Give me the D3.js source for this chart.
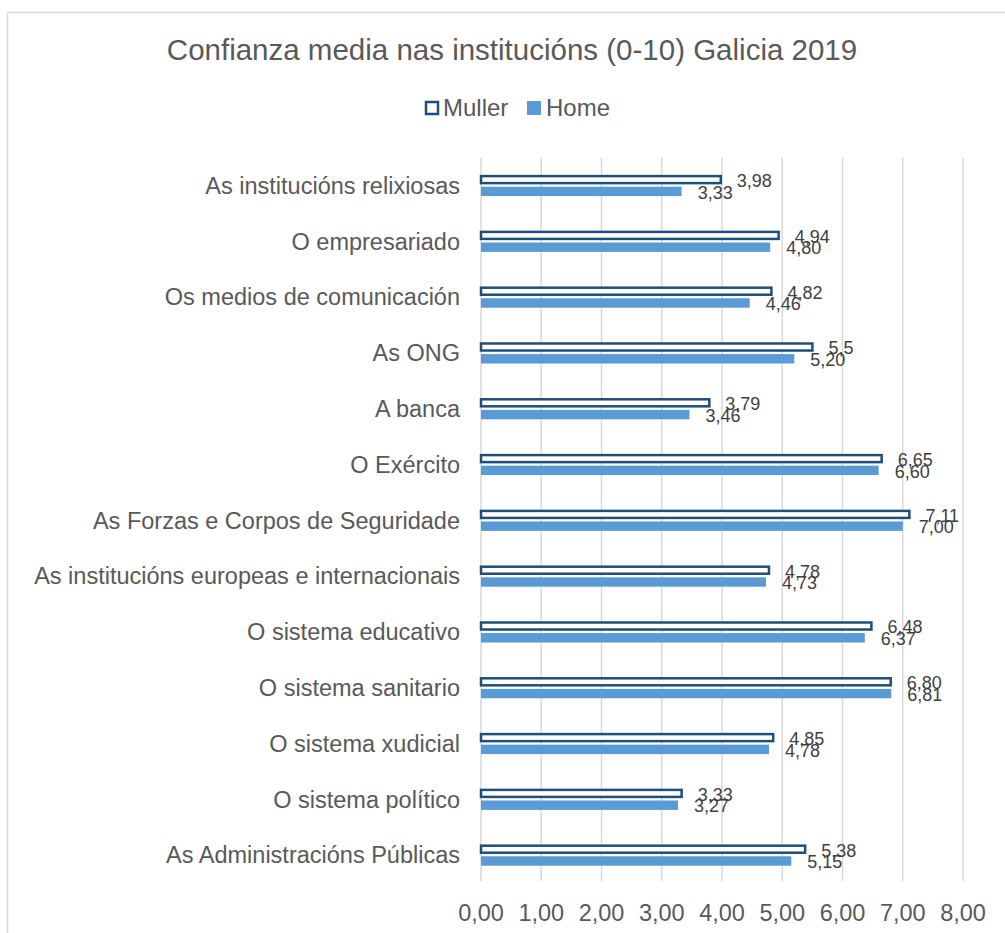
<!DOCTYPE html>
<html>
<head>
<meta charset="utf-8">
<script src="https://cdn.jsdelivr.net/npm/d3@7"></script>
<style>
  body { margin: 0; background: #fff; }
  svg text { font-family: "Liberation Sans", Arial, sans-serif; fill: #595959; }
</style>
</head>
<body>
<div id="chart"></div>
<script>
const categories = [
    "As institucións relixiosas",
    "O empresariado",
    "Os medios de comunicación",
    "As ONG",
    "A banca",
    "O Exército",
    "As Forzas e Corpos de Seguridade",
    "As institucións europeas e internacionais",
    "O sistema educativo",
    "O sistema sanitario",
    "O sistema xudicial",
    "O sistema político",
    "As Administracións Públicas"
];
const mullerValues = [3.98, 4.94, 4.82, 5.5, 3.79, 6.65, 7.11, 4.78, 6.48, 6.80, 4.85, 3.33, 5.38];
const homeValues = [3.33, 4.80, 4.46, 5.20, 3.46, 6.60, 7.00, 4.73, 6.37, 6.81, 4.78, 3.27, 5.15];
// Muller labels as shown (one of them has a single decimal)
const mullerLabels = ["3,98", "4,94", "4,82", "5,5", "3,79", "6,65", "7,11", "4,78", "6,48", "6,80", "4,85", "3,33", "5,38"];
const xTicks = [0, 1, 2, 3, 4, 5, 6, 7, 8];
const seriesNames = ["Muller", "Home"];

const width = 1005, height = 933;
const margin = { top: 157.6, left: 481 };
const plotBottom = 883;

const svg = d3.select("#chart").append("svg")
    .attr("width", width)
    .attr("height", height);

// chart area border (cropped at right/bottom)
svg.append("rect")
    .attr("x", 7.5).attr("y", 12.5)
    .attr("width", 1040).attr("height", 960)
    .attr("fill", "none")
    .attr("stroke", "#d9d9d9")
    .attr("stroke-width", 1.5);

const x = d3.scaleLinear().domain([0, 8]).range([margin.left, 963]);
const y = d3.scaleBand().domain(categories).range([margin.top, plotBottom])
    .paddingInner(0.62).paddingOuter(0.31);
const ySub = d3.scaleBand().domain(seriesNames).range([0, y.bandwidth()]).paddingInner(0.2);
const fmt = d3.format(".2f");
const comma = (s) => s.replace(".", ",");

// gridlines
svg.append("g")
    .selectAll("line")
    .data(xTicks)
    .join("line")
    .attr("x1", (d) => x(d)).attr("x2", (d) => x(d))
    .attr("y1", margin.top).attr("y2", plotBottom - 2)
    .attr("stroke", "#d9d9d9")
    .attr("stroke-width", 1.5);

// x tick labels
svg.append("g")
    .selectAll("text")
    .data(xTicks)
    .join("text")
    .attr("x", (d) => x(d))
    .attr("y", 921)
    .attr("text-anchor", "middle")
    .style("font-size", "23.5px")
    .text((d) => comma(fmt(d)));

// category labels
svg.append("g")
    .selectAll("text")
    .data(categories)
    .join("text")
    .attr("x", 460)
    .attr("y", (d) => y(d) + y.bandwidth() / 2)
    .attr("dy", "0.35em")
    .attr("text-anchor", "end")
    .style("font-size", "23.5px")
    .text((d) => d);

const rows = categories.map((c, i) => ({ cat: c, muller: mullerValues[i], home: homeValues[i], mLabel: mullerLabels[i] }));

// Muller bars (outlined)
svg.append("g")
    .selectAll("rect")
    .data(rows)
    .join("rect")
    .attr("x", x(0))
    .attr("y", (d) => y(d.cat) + ySub("Muller") + 1.2)
    .attr("width", (d) => x(d.muller) - x(0))
    .attr("height", ySub.bandwidth() - 2.4)
    .attr("fill", "#fff")
    .attr("stroke", "#1f4e79")
    .attr("stroke-width", 2.5);

// Home bars
svg.append("g")
    .selectAll("rect")
    .data(rows)
    .join("rect")
    .attr("x", x(0))
    .attr("y", (d) => y(d.cat) + ySub("Home"))
    .attr("width", (d) => x(d.home) - x(0))
    .attr("height", ySub.bandwidth())
    .attr("fill", "#5b9bd5");

// data labels
svg.append("g")
    .selectAll("text")
    .data(rows)
    .join("text")
    .attr("x", (d) => x(d.muller) + 16)
    .attr("y", (d) => y(d.cat) + ySub("Muller") + ySub.bandwidth() / 2 + 1)
    .attr("dy", "0.35em")
    .style("font-size", "18px")
    .style("fill", "#404040")
    .text((d) => d.mLabel);

svg.append("g")
    .selectAll("text")
    .data(rows)
    .join("text")
    .attr("x", (d) => x(d.home) + 16)
    .attr("y", (d) => y(d.cat) + ySub("Home") + ySub.bandwidth() / 2 + 1)
    .attr("dy", "0.35em")
    .style("font-size", "18px")
    .style("fill", "#404040")
    .text((d) => comma(fmt(d.home)));

// title
svg.append("text")
    .attr("x", 512)
    .attr("y", 60)
    .attr("text-anchor", "middle")
    .style("font-size", "29.5px")
    .text("Confianza media nas institucións (0-10) Galicia 2019");

// legend
const legend = svg.append("g");
legend.append("rect")
    .attr("x", 426).attr("y", 102)
    .attr("width", 12).attr("height", 12)
    .attr("fill", "#fff")
    .attr("stroke", "#1f4e79")
    .attr("stroke-width", 2.5);
legend.append("text")
    .attr("x", 443).attr("y", 116)
    .style("font-size", "24px")
    .text("Muller");
legend.append("rect")
    .attr("x", 527).attr("y", 101)
    .attr("width", 14).attr("height", 14)
    .attr("fill", "#5b9bd5");
legend.append("text")
    .attr("x", 546).attr("y", 116)
    .style("font-size", "24px")
    .text("Home");
</script>
</body>
</html>
